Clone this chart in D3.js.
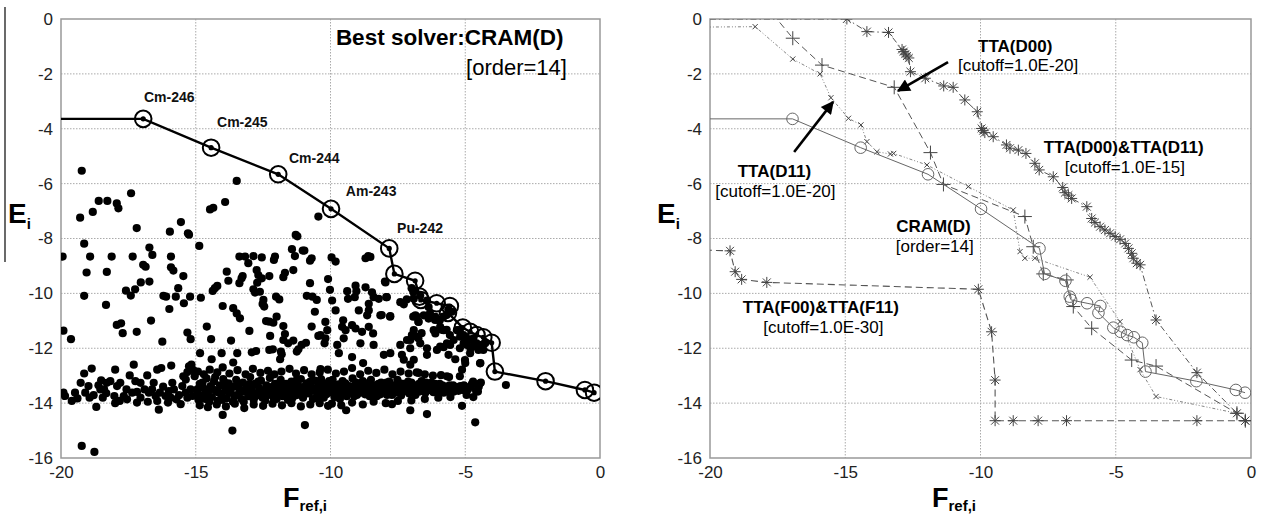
<!DOCTYPE html>
<html><head><meta charset="utf-8">
<script src="https://cdn.jsdelivr.net/npm/d3@7"></script>
<style>
body{margin:0;background:#fff}
svg{display:block}
text{font-family:"Liberation Sans",Arial,sans-serif}
</style>
</head><body>
<svg id="c" width="1261" height="518"></svg>
<script>
// ---------- data ----------
const xTicks = [-20, -15, -10, -5, 0];
const yTicks = [0, -2, -4, -6, -8, -10, -12, -14, -16];

// CRAM(D) best-solver points (F_ref,i , E_i); first point lies off the axis to the left
const cramPoints = [[-21,-3.64],[-16.95,-3.64],[-14.43,-4.69],[-11.94,-5.66],[-9.98,-6.92],[-7.82,-8.36],[-7.63,-9.29],[-6.86,-9.54],[-6.70,-10.12],[-6.65,-10.24],[-6.06,-10.36],[-5.57,-10.46],[-5.64,-10.71],[-5.09,-11.25],[-4.82,-11.40],[-4.58,-11.52],[-4.33,-11.60],[-4.02,-11.80],[-3.90,-12.85],[-2.02,-13.20],[-0.56,-13.52],[-0.22,-13.62]];

const nuclideNames = ["Cm-246","Cm-245","Cm-244","Am-243","Pu-242"];
const nuclideLabelF = [-16.92,-14.21,-11.54,-9.43,-7.53];
const nuclideLabelE = [-3.02,-3.94,-5.25,-6.45,-7.80];

// all nuclides (scatter)
const nuclideDots = [
[-19.23,-5.53],[-19.29,-7.24],[-19.14,-8.19],[-18.82,-7.03],[-18.60,-6.63],[-18.28,-6.63],[-17.93,-6.72],[-17.87,-6.90],[-17.40,-6.35],[-17.19,-7.62],[-16.72,-8.33],[-16.61,-8.60],[-15.96,-7.75],[-15.55,-7.40],[-15.29,-7.81],[-14.87,-8.27],[-14.47,-6.94],[-14.35,-6.88],[-13.91,-6.67],[-13.48,-5.90],[-11.29,-7.87],[-11.43,-8.39],[-10.97,-8.44],[-10.45,-7.20],
[-19.94,-8.66],[-18.92,-8.66],[-18.12,-8.66],[-17.34,-8.66],[-15.92,-8.66],[-13.38,-8.66],[-13.17,-8.66],[-12.86,-8.64],[-12.55,-8.69],[-12.06,-8.66],[-11.32,-8.64],[-8.60,-8.64],[-9.96,-8.69],[-10.70,-8.72],
[-16.95,-8.96],[-16.86,-9.03],[-19.05,-9.24],[-18.30,-9.22],[-15.92,-9.05],[-15.83,-9.17],[-15.46,-9.37],[-16.72,-9.57],[-17.04,-9.60],[-17.25,-9.85],[-17.59,-9.90],[-17.41,-10.08],[-19.14,-10.09],[-18.33,-10.42],[-15.65,-9.81],[-15.74,-10.12],[-16.20,-10.09],[-16.10,-10.12],[-15.21,-10.12],[-15.44,-10.36],[-15.98,-10.57],[-16.66,-10.99],[-17.93,-11.15],[-17.77,-11.09],[-17.71,-11.45],[-17.19,-11.40],[-19.91,-11.36],[-19.63,-11.67],[-16.24,-11.76],[-15.31,-11.43],[-15.19,-11.67],[-14.81,-10.16],[-14.37,-9.91],[-14.29,-9.81],[-14.20,-9.73],[-13.79,-9.54],[-13.85,-9.21],[-13.38,-9.63],[-13.30,-9.45],[-13.26,-9.37],[-13.05,-8.90],[-12.74,-9.15],[-12.68,-9.33],[-12.55,-9.45],[-12.27,-9.37],[-14.00,-10.46],[-13.61,-10.54],[-13.48,-10.73],[-13.36,-10.91],[-12.86,-9.85],[-12.80,-9.97],[-12.62,-9.94],[-12.72,-9.61],[-12.49,-10.24],[-12.52,-10.39],[-12.46,-10.48],[-12.02,-10.12],[-11.90,-10.22],[-11.75,-9.41],[-12.10,-8.78],[-11.69,-9.25],[-11.38,-9.15],[-11.03,-8.44],[-10.76,-8.81],[-13.01,-11.37],[-12.39,-11.01],[-12.27,-11.03],[-12.12,-11.07],[-12.00,-10.85],[-11.75,-11.19],[-11.69,-11.48],[-11.75,-11.70],[-11.57,-11.82],[-11.38,-11.72],[-12.24,-11.55],[-11.84,-12.12],[-11.87,-12.40],[-11.81,-12.22],[-12.27,-12.06],[-12.14,-12.04],[-11.25,-12.12],[-11.19,-12.04],[-11.07,-11.88],[-10.91,-11.80],[-13.61,-12.52],[-13.46,-12.18],[-13.69,-11.72],[-14.43,-11.67],[-14.59,-11.21],[-14.04,-12.18],[-14.84,-12.18],[-14.41,-12.40],[-12.92,-12.15],[-12.76,-12.10],[-10.95,-14.80],[-14.00,-14.43],[-13.64,-15.00],[-19.23,-15.56],[-18.76,-15.78],[-10.76,-9.63],[-10.88,-10.09],[-10.67,-10.12],[-10.51,-10.24],[-10.58,-10.67],[-10.70,-11.21],[-10.45,-11.55],
[-11.23,-7.92],[-15.25,-7.86],[-9.81,-8.84],[-8.70,-8.72],[-8.52,-8.67],
[-10.09,-9.48],[-10.02,-9.87],[-9.94,-10.26],[-9.38,-9.92],[-9.35,-10.20],[-9.07,-9.72],[-9.04,-9.92],[-9.10,-10.14],[-8.70,-9.78],[-8.46,-9.96],[-8.40,-10.14],[-8.21,-10.20],[-8.58,-10.38],[-7.96,-9.60],[-7.93,-10.14],
[-10.19,-11.04],[-10.12,-11.34],[-10.37,-11.52],[-10.19,-11.64],[-10.22,-11.82],[-9.81,-10.62],[-9.53,-10.98],[-9.57,-11.22],[-9.44,-11.34],[-9.51,-11.64],[-9.20,-11.16],[-9.07,-11.28],[-8.95,-10.62],[-8.83,-11.40],[-8.58,-10.62],[-8.64,-10.80],[-8.89,-11.82],[-8.58,-11.22],[-8.42,-11.46],[-8.40,-11.88],[-8.15,-10.80],[-7.78,-10.83],[-9.75,-11.88],[-9.69,-12.18],[-10.37,-12.76],[-9.20,-12.32],[-8.79,-12.54],
[-7.41,-10.32],[-7.28,-10.40],[-6.91,-10.20],[-6.85,-9.90],[-6.67,-10.08],[-6.42,-10.26],[-6.85,-10.80],[-6.73,-11.04],[-6.54,-10.80],[-6.36,-10.92],[-6.91,-11.34],[-6.79,-11.58],[-6.67,-11.82],[-6.42,-12.00],[-7.04,-11.70],[-6.98,-11.52],[-6.17,-11.34],[-6.11,-11.46],[-5.80,-11.34],[-5.93,-11.22],[-6.11,-10.86],[-5.99,-10.98],[-6.36,-10.50],[-5.93,-11.94],[-5.68,-11.82],[-5.80,-11.96],[-5.56,-11.88],[-5.43,-11.70],[-5.31,-11.34],[-5.19,-11.58],[-5.06,-11.82],[-4.94,-11.88],[-4.81,-12.00],[-4.69,-11.94],[-4.51,-12.06],[-4.38,-11.88],[-4.26,-11.82],[-8.02,-12.24],[-7.78,-12.18],[-7.41,-11.88],[-7.16,-11.70],[-7.04,-12.00],[-7.35,-12.24],[-7.28,-12.42],[-7.04,-12.60],[-6.91,-12.42],[-6.42,-12.24],[-6.05,-12.06],[-5.62,-12.24],[-5.37,-12.40],[-5.00,-12.54],[-4.44,-12.54],[-5.12,-12.78],[-5.68,-13.02],[-6.73,-12.90],
[-7.72,-14.04],[-7.04,-14.26],[-6.42,-14.40],[-5.12,-14.10],[-4.63,-14.70],[-9.42,-14.26],[-10.09,-14.10],[-3.49,-13.34],
[-7.98,-9.57],[-7.91,-10.14],[-8.10,-10.79],[-7.79,-10.85],[-7.17,-10.22],[-6.99,-9.81],[-6.93,-9.94],[-6.93,-10.85],[-6.80,-10.85],[-6.74,-11.03],[-6.62,-11.45],[-6.74,-11.64],[-6.31,-10.73],[-6.12,-10.97],[-5.94,-10.97],[-5.81,-10.85],[-5.87,-11.33],[-5.57,-11.52],[-5.69,-11.33],[-5.63,-10.60],[-5.50,-10.67],[-5.69,-10.79],[-5.20,-11.33],[-5.07,-11.52],[-4.95,-11.64],[-4.82,-11.70],[-4.70,-11.64],[-4.58,-11.82],[-4.45,-11.94],[-4.33,-12.06],[-5.20,-12.00],[-4.82,-12.18],[-4.45,-12.55],[-5.01,-12.43],
[-19.91,-13.62],[-19.85,-13.74],[-19.39,-13.83],[-19.27,-13.26],[-19.14,-12.92],[-18.86,-12.74],[-19.10,-13.62],[-18.94,-13.80],[-18.79,-13.71],[-18.69,-14.14],[-18.54,-13.50],[-18.51,-13.17],[-18.61,-13.35],[-18.40,-13.50],[-18.32,-13.64],[-18.45,-13.80],[-17.99,-12.78],[-18.02,-13.74],[-17.99,-14.00],[-17.82,-13.92],[-17.67,-13.74],[-17.57,-13.50],[-17.45,-12.99],[-17.30,-12.60],[-17.24,-13.20],[-17.18,-13.59],[-17.05,-13.80],[-16.90,-13.50],[-16.80,-12.99],[-16.78,-13.95],[-16.62,-13.50],[-16.49,-13.74],[-16.37,-14.24],[-16.43,-12.78],[-16.28,-12.72],[-16.21,-13.40],[-16.12,-13.74],[-16.03,-13.98],[-15.91,-12.63],[-15.87,-13.26],[-15.81,-13.50],[-15.72,-13.86],[-15.62,-13.71],[-15.50,-13.38],[-15.37,-13.14],[-15.31,-12.87],[-15.25,-12.66],[-15.16,-12.60],[-15.09,-12.80],[-15.04,-13.02],[-14.94,-13.50],[-14.88,-13.74],[-17.92,-13.38],[-18.17,-13.20],[-17.80,-13.26],[-17.55,-13.86],[-17.36,-13.62],[-16.74,-13.62],[-16.56,-13.26],[-16.33,-13.62],[-16.00,-13.56],[-15.93,-13.80],[-15.56,-14.04],[-15.37,-13.62],[-15.31,-13.80],[-15.19,-13.50],[-15.12,-13.74],[-15.46,-13.02],[-19.60,-13.92],[-19.48,-13.62],[-18.98,-13.38],[-18.30,-13.26],[-17.05,-13.26],[-17.18,-13.98],[-16.43,-13.92],
[-14.95,-13.55],[-14.85,-13.30],[-14.80,-13.72],[-14.72,-13.45],[-14.65,-13.85],[-14.60,-13.10],[-14.55,-13.60],[-14.45,-13.38],[-14.40,-13.78],[-14.32,-13.20],[-14.25,-13.55],[-14.18,-13.92],[-14.10,-13.35],[-14.05,-13.68],[-13.98,-13.12],[-13.90,-13.50],[-13.85,-13.82],[-13.78,-13.28],[-13.70,-13.62],[-13.62,-13.95],[-13.58,-13.40],[-13.50,-13.15],[-13.45,-13.70],[-13.38,-13.48],[-13.30,-13.85],[-13.25,-13.25],[-13.18,-13.58],[-13.10,-13.38],[-13.05,-13.75],[-12.98,-13.05],[-12.92,-13.52],[-12.85,-13.88],[-12.80,-13.30],[-12.72,-13.65],[-12.65,-13.45],[-12.58,-13.18],[-12.52,-13.80],[-12.45,-13.55],[-12.38,-13.35],[-12.30,-13.70],[-12.25,-13.08],[-12.18,-13.48],[-12.10,-13.82],[-12.05,-13.30],[-11.98,-13.62],[-11.90,-13.42],[-11.85,-13.15],[-11.78,-13.75],[-11.70,-13.52],[-11.65,-13.30],[-11.58,-13.88],[-11.50,-13.60],[-11.45,-13.22],[-11.38,-13.45],[-11.30,-13.72],[-11.22,-13.35],[-11.15,-13.58],[-11.10,-13.12],[-11.02,-13.80],[-10.95,-13.48],[-10.88,-13.28],[-10.80,-13.65],[-10.72,-13.40],[-10.65,-13.85],[-10.58,-13.18],[-10.50,-13.55],[-10.45,-13.35],[-10.38,-13.72],[-10.30,-13.25],[-10.22,-13.50],[-10.15,-13.68],[-10.08,-13.30],[-10.00,-13.55],[-9.92,-13.15],[-9.85,-13.78],[-9.78,-13.45],[-9.70,-13.32],[-9.62,-13.62],[-9.55,-13.20],[-9.48,-13.50],[-9.40,-13.75],[-9.32,-13.38],[-9.25,-13.58],[-9.18,-13.10],[-9.10,-13.45],[-9.02,-13.70],[-8.95,-13.30],[-8.88,-13.55],[-8.80,-13.20],[-8.72,-13.68],[-8.65,-13.40],[-8.58,-13.52],[-8.50,-13.15],[-8.42,-13.62],[-8.35,-13.35],[-8.28,-13.75],[-8.20,-13.48],[-8.12,-13.25],[-8.05,-13.58],[-7.98,-13.38],[-7.90,-13.70],[-7.82,-13.22],[-7.75,-13.50],[-7.68,-13.35],[-7.60,-13.62],[-7.52,-13.15],[-7.45,-13.45],[-7.38,-13.72],[-7.30,-13.30],[-7.22,-13.55],[-7.15,-13.40],[-7.08,-13.65],[-7.00,-13.25],[-6.92,-13.48],[-6.85,-13.70],[-6.78,-13.35],[-6.70,-13.58],[-6.62,-13.20],[-6.55,-13.45],[-6.48,-13.62],[-6.40,-13.38],[-6.32,-13.52],[-6.25,-13.25],[-6.18,-13.60],[-6.10,-13.42],[-6.02,-13.55],[-5.95,-13.30],[-5.88,-13.50],[-5.80,-13.62],[-5.72,-13.40],[-5.65,-13.55],[-5.58,-13.35],[-5.50,-13.48],[-5.42,-13.58],[-5.35,-13.42],[-5.25,-13.55],[-5.18,-13.38],[-5.10,-13.52],
[-14.90,-13.88],[-14.75,-13.25],[-14.62,-13.65],[-14.50,-13.95],[-14.38,-13.48],[-14.28,-13.05],[-14.15,-13.62],[-14.02,-13.88],[-13.92,-13.25],[-13.80,-13.58],[-13.68,-13.40],[-13.55,-13.75],[-13.42,-13.30],[-13.35,-13.60],[-13.22,-13.95],[-13.12,-13.50],[-13.00,-13.30],[-12.90,-13.62],[-12.78,-13.75],[-12.68,-13.22],[-12.55,-13.62],[-12.42,-13.90],[-12.35,-13.45],[-12.22,-13.60],[-12.12,-13.38],[-12.00,-13.85],[-11.92,-13.55],[-11.80,-13.35],[-11.68,-13.65],[-11.55,-13.42],[-11.42,-13.82],[-11.35,-13.55],[-11.25,-13.15],[-11.12,-13.70],[-11.05,-13.42],[-10.92,-13.65],[-10.85,-13.45],[-10.75,-13.22],[-10.62,-13.55],[-10.52,-13.80],[-10.42,-13.50],[-10.35,-13.12],[-10.25,-13.80],[-10.12,-13.45],[-10.05,-13.20],[-9.95,-13.62],[-9.88,-13.40],[-9.75,-13.60],[-9.65,-13.85],[-9.58,-13.42],[-9.45,-13.28],[-9.35,-13.62],[-9.22,-13.40],[-9.12,-13.75],[-9.05,-13.25],[-8.92,-13.62],[-8.85,-13.40],[-8.75,-13.50],[-8.62,-13.28],[-8.55,-13.75],[-8.45,-13.40],[-8.32,-13.55],[-8.22,-13.30],[-8.15,-13.68],[-8.02,-13.45],[-7.92,-13.25],[-7.85,-13.58],[-7.72,-13.70],[-7.62,-13.42],[-7.55,-13.60],[-7.42,-13.28],[-7.35,-13.55],[-7.25,-13.45],[-7.12,-13.22],[-7.05,-13.52],[-6.95,-13.35],[-6.82,-13.55],[-6.72,-13.30],[-6.60,-13.50],[-6.45,-13.25],[-6.35,-13.45],[-6.22,-13.55],[-6.12,-13.30],[-5.98,-13.45],[-5.85,-13.35],[-5.75,-13.55],[-5.62,-13.45],[-5.45,-13.35],[-5.30,-13.48],[-5.15,-13.45],[-5.05,-13.35],[-4.90,-13.50],[-4.75,-13.30],[-4.60,-13.55],[-4.50,-13.40],
[-14.92,-12.85],[-14.70,-12.95],[-14.48,-12.78],[-14.20,-12.88],[-14.00,-12.70],[-13.75,-12.92],[-13.45,-12.80],[-13.15,-12.95],[-12.88,-12.75],[-12.60,-12.90],[-12.32,-12.82],[-12.08,-12.95],[-11.82,-12.85],[-11.52,-12.75],[-11.28,-12.92],[-10.98,-12.80],[-10.70,-12.95],[-10.40,-12.88],[-10.10,-12.78],[-9.80,-12.92],[-9.50,-12.85],[-9.20,-12.72],[-8.90,-12.95],[-8.60,-12.82],[-8.30,-12.90],[-8.00,-12.78],[-7.70,-12.95],[-7.40,-12.85],[-7.10,-12.92],[-6.80,-12.88],[-6.50,-12.95],[-6.20,-13.00],[-5.90,-12.98],[-5.60,-13.05],[-5.20,-13.02],
[-14.85,-14.08],[-14.55,-14.15],[-14.22,-14.05],[-13.88,-14.12],[-13.55,-14.02],[-13.20,-14.18],[-12.85,-14.05],[-12.50,-14.10],[-12.15,-14.02],[-11.80,-14.08],[-11.45,-14.00],[-11.10,-14.12],[-10.75,-14.05],[-10.40,-14.00],[-9.95,-14.02],[-9.60,-14.08],[-9.20,-13.98],[-8.80,-14.05],[-8.40,-13.95],[-7.95,-14.00],[-7.50,-13.92],[-7.00,-13.90],[-6.50,-13.85],[-6.00,-13.80],[-5.55,-13.78],[-4.95,-13.70],[-4.70,-13.78],[-4.42,-13.25],[-4.82,-13.40],[-4.71,-13.22],[-4.53,-13.58],[-4.45,-13.28]
];

// right panel series (first points of some series lie outside the axes and are clipped)
const ttaD00 = [[-18.2,0.8],[-16.94,-0.70],[-15.86,-1.68],[-13.19,-2.49],[-11.85,-4.87],[-11.37,-6.03],[-8.36,-7.20],[-8.05,-8.30],[-7.68,-9.29],[-6.81,-9.51],[-6.57,-10.48],[-5.89,-11.27],[-4.41,-12.43],[-3.51,-12.65],[-0.52,-14.37],[-0.21,-14.64]];
const ttaD11 = [[-21,-0.30],[-18.33,-0.28],[-16.94,-1.46],[-15.93,-2.00],[-15.53,-2.87],[-14.88,-3.62],[-14.42,-3.86],[-14.20,-4.47],[-13.83,-4.84],[-13.33,-4.92],[-13.21,-4.90],[-11.98,-5.32],[-10.45,-6.11],[-8.79,-6.96],[-8.54,-8.48],[-8.36,-8.72],[-7.99,-8.72],[-5.95,-9.41],[-4.84,-11.03],[-4.10,-12.78],[-3.51,-13.76],[-0.52,-14.37],[-0.21,-14.64]];
const ttaD00D11 = [[-21,0],[-14.94,0],[-14.20,-0.46],[-13.40,-0.49],[-12.90,-1.11],[-12.84,-1.19],[-12.78,-1.28],[-12.72,-1.35],[-12.65,-1.42],[-12.59,-1.92],[-12.04,-2.16],[-11.36,-2.44],[-11.01,-2.49],[-10.58,-2.95],[-10.12,-3.38],[-9.96,-3.99],[-9.90,-4.07],[-9.84,-4.14],[-9.53,-4.29],[-9.04,-4.59],[-8.91,-4.71],[-8.60,-4.78],[-8.32,-4.90],[-7.99,-5.26],[-7.83,-5.50],[-7.31,-5.75],[-6.96,-6.14],[-6.88,-6.33],[-6.75,-6.42],[-6.63,-6.54],[-6.07,-6.84],[-5.89,-7.27],[-5.77,-7.42],[-5.58,-7.57],[-5.40,-7.69],[-5.21,-7.81],[-5.02,-7.93],[-4.84,-8.03],[-4.65,-8.18],[-4.53,-8.36],[-4.41,-8.54],[-4.35,-8.72],[-4.22,-8.90],[-4.10,-8.96],[-3.51,-10.97],[-2.00,-12.89],[-0.52,-14.37],[-0.21,-14.64]];
const ttaF00F11 = [[-21,-8.40],[-19.26,-8.45],[-19.07,-9.21],[-18.83,-9.49],[-17.90,-9.60],[-10.08,-9.85],[-9.59,-11.40],[-9.46,-13.16],[-9.46,-14.64],[-8.79,-14.64],[-7.87,-14.64],[-6.82,-14.64],[-2.00,-14.64],[-0.21,-14.64]];

// right panel annotations: [text, F, E, bold, anchor]
const rightNotes = [
  ["TTA(D00)", -10.09, -1.20, true, "start"],
  ["[cutoff=1.0E-20]", -10.83, -1.90, false, "start"],
  ["TTA(D11)", -17.62, -5.76, true, "middle"],
  ["[cutoff=1.0E-20]", -17.58, -6.49, false, "middle"],
  ["TTA(D00)&TTA(D11)", -4.71, -4.88, true, "middle"],
  ["[cutoff=1.0E-15]", -4.66, -5.61, false, "middle"],
  ["CRAM(D)", -11.74, -7.76, true, "middle"],
  ["[order=14]", -11.69, -8.49, false, "middle"],
  ["TTA(F00)&TTA(F11)", -15.90, -10.71, true, "middle"],
  ["[cutoff=1.0E-30]", -15.81, -11.44, false, "middle"]
];
// arrows: [fromF, fromE, toF, toE]
const rightArrows = [[-11.20,-1.57,-13.05,-2.62],[-16.89,-4.85,-15.45,-3.02]];

// ---------- drawing ----------
const svg = d3.select("#c");
const plotTop = 19, plotBottom = 458;

const defs = svg.append("defs");
defs.append("marker").attr("id","ah").attr("viewBox","0 0 10 10").attr("refX",9).attr("refY",5)
  .attr("markerWidth",6).attr("markerHeight",5).attr("markerUnits","strokeWidth").attr("orient","auto")
  .append("path").attr("d","M0,0 L10,5 L0,10 Z").attr("fill","#000");

svg.append("line").attr("x1",5).attr("x2",5).attr("y1",7).attr("y2",262)
  .attr("stroke","#444").attr("stroke-width",1.6);

const tickFmt = d => String(d);   // plain hyphen-minus like the original

function makePanel(left, right, id) {
  const x = d3.scaleLinear().domain([-20,0]).range([left,right]);
  const y = d3.scaleLinear().domain([-16,0]).range([plotBottom,plotTop]);
  const g = svg.append("g");
  defs.append("clipPath").attr("id",id).append("rect")
    .attr("x",left).attr("y",plotTop).attr("width",right-left).attr("height",plotBottom-plotTop);
  g.selectAll(".gx").data(xTicks.slice(1,-1)).join("line")
    .attr("x1",d=>x(d)).attr("x2",d=>x(d)).attr("y1",plotTop).attr("y2",plotBottom)
    .attr("stroke","#aaa").attr("stroke-width",1).attr("stroke-dasharray","1.5,1.5");
  g.selectAll(".gy").data(yTicks.slice(1,-1)).join("line")
    .attr("y1",d=>y(d)).attr("y2",d=>y(d)).attr("x1",left).attr("x2",right)
    .attr("stroke","#aaa").attr("stroke-width",1).attr("stroke-dasharray","1.5,1.5");
  const ax = g.append("g").attr("transform",`translate(0,${plotBottom})`)
    .call(d3.axisBottom(x).tickValues(xTicks).tickSize(0).tickPadding(8).tickFormat(tickFmt));
  const ay = g.append("g").attr("transform",`translate(${left},0)`)
    .call(d3.axisLeft(y).tickValues(yTicks).tickSize(0).tickPadding(8).tickFormat(tickFmt));
  [ax,ay].forEach(a=>{a.select(".domain").remove();
    a.selectAll("text").attr("font-size",17).attr("fill","#222")
     .attr("font-family","Liberation Sans, Arial, sans-serif");});
  g.append("rect").attr("x",left).attr("y",plotTop).attr("width",right-left).attr("height",plotBottom-plotTop)
    .attr("fill","none").attr("stroke","#999").attr("stroke-width",1.5);
  const lab = g.append("text").attr("x",left-53).attr("y",223).attr("font-weight","bold").attr("fill","#000");
  lab.append("tspan").attr("font-size",28).text("E");
  lab.append("tspan").attr("font-size",15).attr("dy",6).text("i");
  const xl = g.append("text").attr("x",left+222).attr("y",507).attr("font-weight","bold").attr("fill","#000");
  xl.append("tspan").attr("font-size",27).text("F");
  xl.append("tspan").attr("font-size",15).attr("dy",4).text("ref,i");
  const plot = g.append("g").attr("clip-path",`url(#${id})`);
  return {x, y, g, plot};
}

// ---- left panel ----
const L = makePanel(61, 600, "clipL");
L.plot.selectAll("circle.dot").data(nuclideDots).join("circle").attr("class","dot")
  .attr("cx",d=>L.x(d[0])).attr("cy",d=>L.y(d[1])).attr("r",4.1).attr("fill","#000");
L.plot.append("path").datum(cramPoints)
  .attr("d",d3.line().x(d=>L.x(d[0])).y(d=>L.y(d[1])))
  .attr("fill","none").attr("stroke","#000").attr("stroke-width",2.4);
const cramVis = cramPoints.slice(1);
L.plot.selectAll("circle.cr").data(cramVis).join("circle").attr("class","cr")
  .attr("cx",d=>L.x(d[0])).attr("cy",d=>L.y(d[1])).attr("r",8.3)
  .attr("fill","none").attr("stroke","#000").attr("stroke-width",2);
L.plot.selectAll("circle.crc").data(cramVis).join("circle").attr("class","crc")
  .attr("cx",d=>L.x(d[0])).attr("cy",d=>L.y(d[1])).attr("r",2.6).attr("fill","#000");
L.g.selectAll("text.nuc").data(nuclideNames).join("text").attr("class","nuc")
  .attr("x",(d,i)=>L.x(nuclideLabelF[i])).attr("y",(d,i)=>L.y(nuclideLabelE[i]))
  .attr("font-size",14).attr("font-weight","bold").attr("fill","#111").text(d=>d);
L.g.append("text").attr("x",L.x(-9.80)).attr("y",L.y(-0.95)).attr("font-size",22.5).attr("font-weight","bold")
  .attr("fill","#000").text("Best solver:CRAM(D)");
L.g.append("text").attr("x",L.x(-4.97)).attr("y",L.y(-2.04)).attr("font-size",22)
  .attr("fill","#000").text("[order=14]");

// ---- right panel ----
const R = makePanel(710, 1251, "clipR");
function markerPath(type, cx, cy, s) {
  const p = `M${cx-s},${cy}H${cx+s}M${cx},${cy-s}V${cy+s}`;
  const k = s*0.72;
  const xx = `M${cx-k},${cy-k}L${cx+k},${cy+k}M${cx-k},${cy+k}L${cx+k},${cy-k}`;
  if (type==="plus") return p;
  if (type==="x") return xx;
  return p + xx;
}
const lineGen = d3.line().x(d=>R.x(d[0])).y(d=>R.y(d[1]));
const rightSeries = [
  {data: ttaF00F11, dash:"7,4", color:"#555", w:1.1, mk:"star", s:5.5},
  {data: ttaD00D11, dash:"6,3,1.5,3", color:"#555", w:1, mk:"star", s:5.5},
  {data: ttaD11, dash:"3,2,1,2,1,2", color:"#777", w:0.9, mk:"x", s:3.6},
  {data: ttaD00, dash:"7,4", color:"#555", w:1, mk:"plus", s:7}
];
rightSeries.forEach(se=>{
  R.plot.append("path").datum(se.data).attr("d",lineGen).attr("fill","none")
    .attr("stroke",se.color).attr("stroke-width",se.w).attr("stroke-dasharray",se.dash);
  R.plot.append("path")
    .attr("d", se.data.map(d=>markerPath(se.mk, R.x(d[0]), R.y(d[1]), se.s)).join(""))
    .attr("fill","none").attr("stroke","#444").attr("stroke-width",1);
});
R.plot.append("path").datum(cramPoints).attr("d",lineGen).attr("fill","none")
  .attr("stroke","#666").attr("stroke-width",1);
R.plot.selectAll("circle.rc").data(cramVis).join("circle").attr("class","rc")
  .attr("cx",d=>R.x(d[0])).attr("cy",d=>R.y(d[1])).attr("r",5.8)
  .attr("fill","none").attr("stroke","#666").attr("stroke-width",1);
R.g.selectAll("text.note").data(rightNotes).join("text").attr("class","note")
  .attr("x",d=>R.x(d[1])).attr("y",d=>R.y(d[2]))
  .attr("text-anchor",d=>d[4]).attr("font-size",17)
  .attr("font-weight",d=>d[3]?"bold":"normal").attr("fill","#000").text(d=>d[0]);
R.g.selectAll("line.arr").data(rightArrows).join("line").attr("class","arr")
  .attr("x1",d=>R.x(d[0])).attr("y1",d=>R.y(d[1])).attr("x2",d=>R.x(d[2])).attr("y2",d=>R.y(d[3]))
  .attr("stroke","#000").attr("stroke-width",2.6).attr("marker-end","url(#ah)");
</script>
</body></html>
